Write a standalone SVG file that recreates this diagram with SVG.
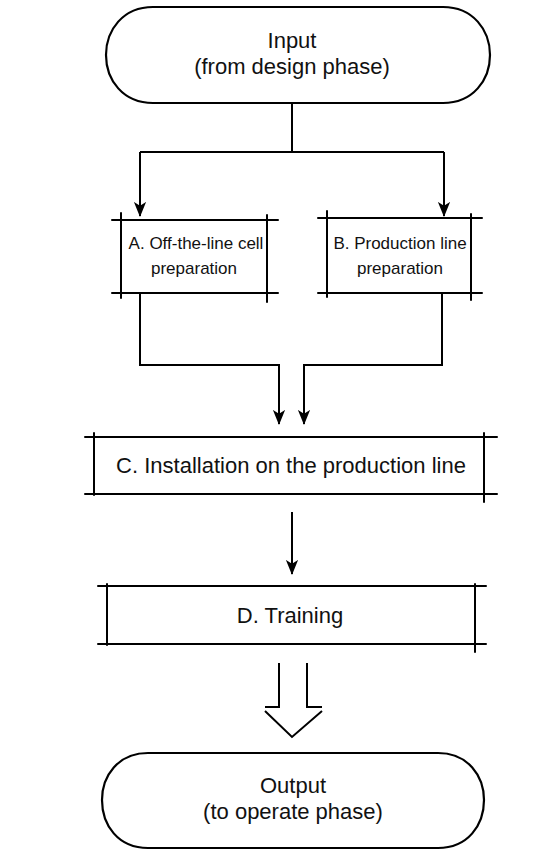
<svg xmlns="http://www.w3.org/2000/svg" width="554" height="850" viewBox="0 0 554 850">
<defs>
<marker id="arr" viewBox="0 0 16 16" refX="15" refY="8" markerWidth="15" markerHeight="15" markerUnits="userSpaceOnUse" orient="auto">
<path d="M0,1.5 L16,8 L0,14.5 L4,8 Z" fill="#000"/>
</marker>
</defs>
<style>
.t{font-family:"Liberation Sans",Arial,sans-serif;font-size:22px;fill:#111;text-anchor:middle}
.s{font-size:17px}
.e{fill:none;stroke:#000;stroke-width:2;stroke-linecap:round}
.c{fill:none;stroke:#000;stroke-width:2}
.term{fill:#fff;stroke:#000;stroke-width:2.2}
</style>
<rect width="554" height="850" fill="#fff"/>
<g id="input">
<path class="term" d="M153,7 H443 C473,7 490,30 490,55 C490,80 473,103 443,103 H153 C123,103 106,80 106,55 C106,30 123,7 153,7 Z"/>
<text class="t" x="292" y="48">Input</text>
<text class="t" x="292" y="74">(from design phase)</text>
</g>
<g id="nodeA">
<line class="e" x1="112" y1="220" x2="278" y2="220"/>
<line class="e" x1="112" y1="293" x2="278" y2="293"/>
<line class="e" x1="121" y1="213" x2="121" y2="298"/>
<line class="e" x1="267" y1="215" x2="267" y2="302"/>
<text class="t s" x="196" y="249">A. Off-the-line cell</text>
<text class="t s" x="194" y="274">preparation</text>
</g>
<g id="nodeB">
<line class="e" x1="318" y1="218" x2="482" y2="218"/>
<line class="e" x1="318" y1="293" x2="482" y2="293"/>
<line class="e" x1="327" y1="211" x2="327" y2="297"/>
<line class="e" x1="471" y1="214" x2="471" y2="300"/>
<text class="t s" x="400" y="249">B. Production line</text>
<text class="t s" x="400" y="274">preparation</text>
</g>
<g id="nodeC">
<line class="e" x1="85" y1="437" x2="497" y2="437"/>
<line class="e" x1="85" y1="494" x2="497" y2="494"/>
<line class="e" x1="94" y1="433" x2="94" y2="495"/>
<line class="e" x1="484" y1="433" x2="484" y2="502"/>
<text class="t" x="291" y="473">C. Installation on the production line</text>
</g>
<g id="nodeD">
<line class="e" x1="98" y1="586" x2="486" y2="586"/>
<line class="e" x1="98" y1="644" x2="486" y2="644"/>
<line class="e" x1="107" y1="584" x2="107" y2="645"/>
<line class="e" x1="475" y1="584" x2="475" y2="652"/>
<text class="t" x="290" y="623">D. Training</text>
</g>
<g id="output">
<path class="term" d="M148,753 H438 C468,753 484,776 484,800 C484,825 468,848 438,848 H148 C118,848 102,825 102,800 C102,776 118,753 148,753 Z"/>
<text class="t" x="293" y="793">Output</text>
<text class="t" x="293" y="819">(to operate phase)</text>
</g>
<g id="connectors">
<path class="c" d="M292,103 V152"/>
<path class="c" d="M140,152 H444"/>
<path class="c" d="M140,152 V216" marker-end="url(#arr)"/>
<path class="c" d="M444,152 V216" marker-end="url(#arr)"/>
<path class="c" d="M140,293 V365 H279 V424" marker-end="url(#arr)"/>
<path class="c" d="M442,293 V365 H304 V424" marker-end="url(#arr)"/>
<path class="c" d="M292,512 V574" marker-end="url(#arr)"/>
<path class="c" d="M279,663 V707 H265 M307,663 V707 H322 M265,711 L292,737 L322,711"/>
</g>
</svg>
